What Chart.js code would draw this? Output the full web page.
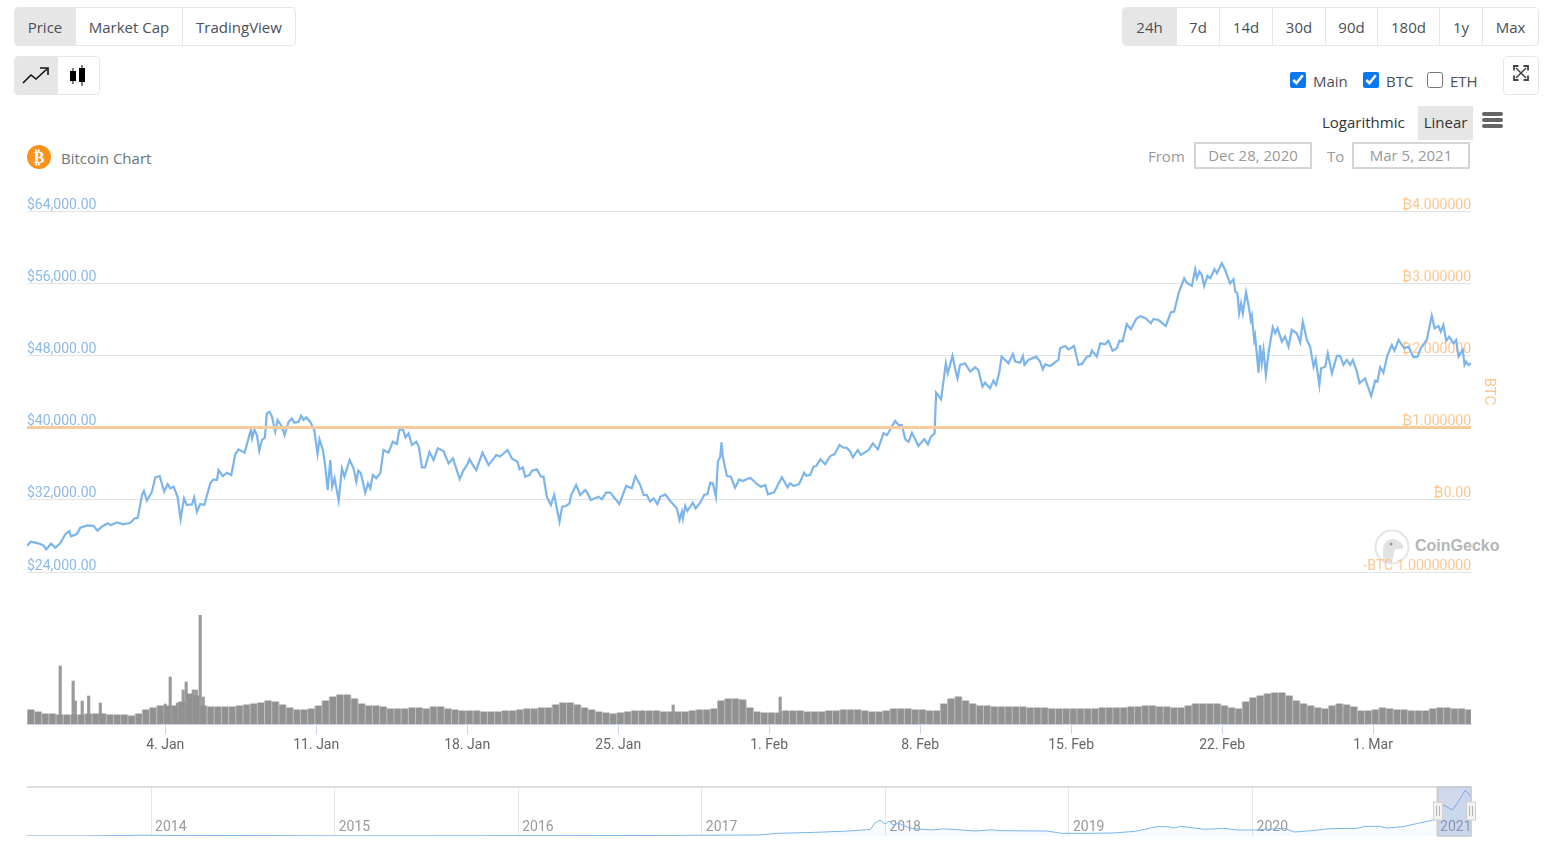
<!DOCTYPE html>
<html>
<head>
<meta charset="utf-8">
<title>Bitcoin Chart</title>
<script src="https://cdn.jsdelivr.net/npm/chart.js@4"></script>
<style>
    html, body { margin: 0; padding: 0; background: #fff; width: 1555px; height: 853px; overflow: hidden; font-family: "Open Sans", sans-serif; color: #495057; font-size: 15px; }
    .abs, canvas { position: absolute; }
    .group { position: absolute; display: flex; box-sizing: border-box; border: 1px solid #e6e6e6; border-radius: 4px; height: 39px; overflow: hidden; }
    .group div { box-sizing: border-box; border-right: 1px solid #e6e6e6; display: flex; align-items: center; justify-content: center; }
    .group div:last-child { border-right: 0; }
    .group .on { background: #e6e6e6; }
    .chk { position: absolute; margin: 0; width: 16px; height: 16px; accent-color: #0a76f0; }
    .date { position: absolute; box-sizing: border-box; top: 142px; width: 118px; height: 27px; border: 2px solid #d5d5d5; color: #999; text-align: center; line-height: 22px; }
    .grey { position: absolute; top: 146px; color: #999; }
    .lbl { position: absolute; top: 71px; }
</style>
</head>
<body>

<div class="group" style="left:14px;top:7px;width:282px">
    <div class="on" style="width:61px">Price</div>
    <div style="width:107px">Market Cap</div>
    <div style="width:112px">TradingView</div>
</div>
<div class="group" style="left:14px;top:56px;width:86px">
    <div class="on" style="width:43px">
        <svg width="30" height="20" viewBox="0 0 30 20"><polyline points="2,17 10,9 15,13 26,3" fill="none" stroke="#111" stroke-width="1.6"/><polyline points="19,2 27,2 27,9" fill="none" stroke="#111" stroke-width="1.6"/></svg>
    </div>
    <div style="width:42px">
        <svg width="22" height="22" viewBox="0 0 22 22"><rect x="3" y="6" width="6" height="10" fill="#000"/><rect x="5.5" y="3" width="1" height="16" fill="#000"/><rect x="12" y="3" width="6" height="14" fill="#000"/><rect x="14.5" y="0" width="1" height="21" fill="#000"/></svg>
    </div>
</div>

<div class="group" style="left:1122px;top:7px;width:417px">
    <div class="on" style="width:54px">24h</div>
    <div style="width:43px">7d</div>
    <div style="width:53px">14d</div>
    <div style="width:53px">30d</div>
    <div style="width:52px">90d</div>
    <div style="width:62px">180d</div>
    <div style="width:43px">1y</div>
    <div style="width:55px">Max</div>
</div>
<div class="group" style="left:1503px;top:56px;width:36px">
    <div style="width:34px;align-items:flex-start;padding-top:8px">
        <svg width="16" height="16" viewBox="0 0 16 16" fill="none" stroke="#444" stroke-width="1.500">
            <path d="M3 3l10 10M13 3L3 13"/>
            <path d="M1 5.500V1h4.500M10.500 1H15v4.500M15 10.500V15h-4.500M5.500 15H1v-4.500" stroke-width="1.800"/>
        </svg>
    </div>
</div>

<input class="chk" type="checkbox" checked style="left:1290px;top:72px">
<span class="lbl" style="left:1313px">Main</span>
<input class="chk" type="checkbox" checked style="left:1363px;top:72px">
<span class="lbl" style="left:1386px">BTC</span>
<input class="chk" type="checkbox" style="left:1427px;top:72px">
<span class="lbl" style="left:1450px">ETH</span>

<span class="abs" style="left:1322px;top:112px;color:#333">Logarithmic</span>
<div class="abs" style="left:1418px;top:106px;width:55px;height:34px;background:#e6e6e6;text-align:center;line-height:33px;color:#333">Linear</div>
<div class="abs" style="left:1482px;top:112px;width:21px;height:4px;background:#666;border-radius:2px"></div>
<div class="abs" style="left:1482px;top:118px;width:21px;height:4px;background:#666;border-radius:2px"></div>
<div class="abs" style="left:1482px;top:124px;width:21px;height:4px;background:#666;border-radius:2px"></div>

<span class="grey" style="left:1148px">From</span>
<div class="date" style="left:1194px">Dec 28, 2020</div>
<span class="grey" style="left:1327px">To</span>
<div class="date" style="left:1352px">Mar 5, 2021</div>

<svg class="abs" style="left:27px;top:145px" width="24" height="24" viewBox="0 0 24 24">
    <circle cx="12" cy="12" r="12" fill="#f7931a"/>
    <text x="12" y="18" text-anchor="middle" font-family="DejaVu Sans" font-weight="bold" font-size="16" fill="#fff">₿</text>
</svg>
<span class="abs" style="left:61px;top:148px;color:#6c757d">Bitcoin Chart</span>

<svg class="abs" style="left:1374px;top:529px" width="36" height="36" viewBox="0 0 36 36">
    <circle cx="18" cy="18" r="16.500" fill="#fff" stroke="#e4e4e4" stroke-width="2"/>
    <path d="M9 34V20c0-6 5-10 10-10 4 0 7 2 10 6 1 2 0 4-3 4h-5c-1 5-2 10-4 14z" fill="#e2e2e2"/>
    <circle cx="17" cy="15" r="1.500" fill="#999"/>
</svg>
<span class="abs" style="left:1415px;top:537px;color:#b5b5b5;font:bold 16px 'Liberation Sans'">CoinGecko</span>

<canvas id="mainChart" width="1555" height="400" style="left:0;top:190px"></canvas>
<canvas id="volumeChart" width="1555" height="170" style="left:0;top:600px"></canvas>
<canvas id="navChart" width="1555" height="73" style="left:0;top:780px"></canvas>

<script>
// days since 1 Jan 2021
const priceDays = [
    -3.41,-3.23,-3.03,-2.80,-2.64,-2.52,-2.29,-2.10,-1.87,-1.64,-1.45,-1.37,-1.10,-0.94,-0.60,-0.32,-0.14,0.06,0.33,0.48,
    0.76,1.04,1.38,1.58,1.73,1.92,2.01,2.15,2.38,2.54,2.74,2.95,3.11,3.23,3.39,3.57,3.71,3.87,4.00,4.24,
    4.34,4.47,4.62,4.81,5.09,5.24,5.40,5.47,5.67,5.86,6.06,6.25,6.40,6.68,6.86,6.97,7.03,7.13,7.25,7.36,
    7.48,7.62,7.71,7.84,7.95,8.10,8.21,8.41,8.53,8.72,8.87,8.98,9.18,9.30,9.41,9.54,9.72,9.91,10.06,10.15,
    10.31,10.42,10.53,10.65,10.74,10.85,11.04,11.19,11.31,11.55,11.73,11.86,11.95,12.07,12.27,12.40,12.50,12.63,12.78,12.97,
    13.12,13.35,13.55,13.74,13.85,14.02,14.14,14.28,14.44,14.64,14.76,14.90,15.05,15.25,15.44,15.64,15.90,16.14,16.34,16.65,
    16.83,16.99,17.11,17.26,17.42,17.71,17.99,18.35,18.53,18.87,19.07,19.33,19.43,19.58,19.69,19.89,20.00,20.23,20.42,20.54,
    20.69,20.88,21.03,21.28,21.40,21.57,21.74,21.82,22.05,22.24,22.47,22.58,22.73,23.09,23.24,23.44,23.63,24.05,24.37,24.63,
    24.80,25.02,25.18,25.33,25.48,25.64,25.82,25.95,26.18,26.44,26.72,26.84,26.95,27.00,27.11,27.21,27.46,27.59,27.80,27.99,
    28.14,28.27,28.39,28.53,28.62,28.73,28.79,28.85,29.04,29.22,29.42,29.61,29.77,30.12,30.43,30.61,30.82,30.94,31.23,31.36,
    31.59,31.85,31.97,32.13,32.39,32.62,32.72,32.90,33.06,33.18,33.37,33.60,33.83,34.03,34.26,34.45,34.60,34.76,34.88,35.11,
    35.25,35.61,35.81,36.04,36.30,36.46,36.84,37.00,37.15,37.31,37.46,37.62,37.92,38.19,38.36,38.50,38.67,38.74,38.88,38.97,
    39.03,39.19,39.28,39.50,39.62,39.73,39.85,40.08,40.32,40.55,40.70,40.89,41.01,41.24,41.40,41.52,41.66,41.78,41.97,42.09,
    42.30,42.41,42.64,42.76,42.84,43.02,43.38,43.56,43.69,43.80,44.03,44.41,44.49,44.72,44.88,45.14,45.34,45.50,45.73,45.88,
    45.96,46.19,46.35,46.58,46.73,46.92,47.12,47.24,47.38,47.58,47.77,48.02,48.20,48.43,48.70,48.82,49.05,49.39,49.62,49.78,
    49.98,50.24,50.36,50.60,50.75,50.83,50.95,51.06,51.17,51.32,51.45,51.65,51.76,51.99,52.14,52.37,52.53,52.61,52.71,52.79,
    52.88,52.96,53.11,53.22,53.33,53.38,53.49,53.53,53.69,53.76,53.84,53.92,54.03,54.17,54.35,54.46,54.57,54.77,54.92,55.08,
    55.23,55.46,55.62,55.74,55.93,56.08,56.24,56.34,56.51,56.59,56.78,56.90,57.09,57.32,57.47,57.63,57.78,57.94,58.06,58.25,
    58.37,58.63,58.91,59.10,59.20,59.33,59.48,59.67,59.87,59.99,60.18,60.44,60.64,60.87,61.06,61.21,61.49,61.72,61.85,62.03,
    62.14,62.26,62.39,62.53,62.73,62.85,62.96,63.16,63.24,63.31,63.42,63.54
];
const prices = [
    26920,27360,27250,27100,26920,26510,27140,26690,27170,28170,28540,27950,28210,28910,29170,29100,28580,29020,29390,29170,
    29500,29280,29460,29940,30020,32530,32970,31900,32900,34490,34630,32900,33750,33270,33450,32340,29870,32160,31420,31500,
    32270,30680,31530,31420,33820,34260,34190,35300,34630,35000,34750,37070,37590,37220,38810,39730,38810,39800,39180,37440,
    38620,38880,41580,41760,41210,39550,40840,40100,39180,40650,41020,40540,40650,41320,40840,41130,40650,39730,37070,38700,
    37510,35670,33080,36410,33450,34380,31900,35480,34560,36410,35480,34010,35230,34930,32790,33820,33270,34750,34380,34930,
    37510,37220,38440,38180,39730,39800,38920,39360,38070,38440,37880,35590,35590,37290,36410,37700,37400,36040,36590,34300,
    35300,35850,36520,35850,35300,37220,35850,36960,36800,37520,36590,36220,35370,35590,34560,34750,35230,35370,34560,34560,
    32340,31420,32530,29570,31240,31310,31610,32530,33640,32530,33080,32710,31980,32340,32050,32790,32790,31530,33530,33270,
    34630,33640,32530,32530,31790,32160,31530,32340,32600,31790,31050,29760,30680,29940,31310,30760,31680,31050,31680,32530,
    32640,33900,33820,32340,36220,36780,38360,36780,34630,34560,33340,34260,34080,34450,33750,33450,33640,32600,32820,33450,
    34490,33380,33820,33530,33750,35000,34670,34750,35670,35740,36480,35930,36850,37030,38070,37770,37770,37330,36700,37510,
    36960,37510,38250,37590,39360,39180,40730,40280,40280,38700,38440,39440,37960,38730,38140,38990,39360,43870,43430,43130,
    44170,47120,46010,47970,46570,45460,46940,47120,46200,46680,46380,44540,44980,44350,45200,44720,46010,47860,47420,47120,
    48160,47310,47200,47940,46940,47490,47860,47310,46460,47010,46830,47490,48790,49040,48670,49040,46940,47050,47860,47940,
    48530,47860,49340,49230,49630,48530,48790,49630,49520,51480,50890,52040,52330,52150,51560,52040,51920,51260,52770,52850,
    54880,56540,56060,55690,57540,56540,57280,56910,55690,56800,56540,57540,57100,58200,57460,55990,56430,55060,54880,52660,
    53770,52660,54990,53590,51920,52400,49710,50150,46090,49150,47120,48600,45830,48600,51110,50450,51000,49520,50080,48970,
    50820,50450,49450,51740,49710,48970,46750,47570,44720,46570,46750,48230,46020,47940,47940,46940,47490,46940,47490,46200,
    44910,45460,43500,45200,45090,46680,46090,48050,49150,48530,49710,48790,48970,47790,47860,48790,49710,52400,51000,51260,
    50630,51370,49630,50080,49340,49710,47860,48600,46940,47310,46940,47120
];

const btcDays = [-3.41, 63.54];
const btcValues = [1, 1];

const usdTicks = [24000, 32000, 40000, 48000, 56000, 64000];
const usdTickLabels = ['$24,000.00', '$32,000.00', '$40,000.00', '$48,000.00', '$56,000.00', '$64,000.00'];
const btcTicks = [-1, 0, 1, 2, 3, 4];
const btcTickLabels = ['-BTC 1.00000000', '₿0.00', '₿1.000000', '₿2.000000', '₿3.000000', '₿4.000000'];

// volume in $bn, one bar every 8 hours from the first one
const volumeStart = -3.23;
const volumeStep = 1 / 3;
const volumes = [
    42,36,30,30,27,27,27,27,30,30,30,27,27,27,24,30,42,48,54,54,
    54,66,90,84,54,51,51,51,51,54,57,60,63,69,66,57,48,42,42,45,
    54,69,81,87,87,75,60,54,54,51,45,45,45,48,48,45,51,51,45,42,
    39,39,39,36,36,36,39,39,42,45,45,48,48,57,63,63,57,48,42,36,
    33,30,33,36,39,39,39,39,36,36,36,36,39,42,42,45,69,75,75,72,
    48,36,33,33,33,39,39,39,36,36,36,39,39,42,42,42,39,36,36,39,
    45,45,45,42,42,39,39,60,75,81,69,60,54,54,51,51,51,51,51,48,
    48,48,45,45,45,45,45,45,45,48,48,48,48,51,51,54,54,51,51,48,
    48,54,60,60,60,60,54,48,45,66,78,84,90,93,93,84,69,60,54,48,
    45,54,60,57,51,39,39,42,48,45,42,42,39,39,39,45,48,48,45,45,
    42
];
const spikeDays = [-1.87, -1.27, -1.17, -0.85, -0.55, -0.01, 3.00, 3.23, 3.56, 3.83, 3.97, 4.30, 4.44, 4.62, 4.76, 26.55, 31.51];
const spikeVolumes = [174, 129, 69, 69, 84, 63, 60, 141, 63, 102, 126, 102, 102, 327, 81, 57, 81];

const dateTicks = [3, 10, 17, 24, 31, 38, 45, 52, 59];
const dateLabels = ['4. Jan', '11. Jan', '18. Jan', '25. Jan', '1. Feb', '8. Feb', '15. Feb', '22. Feb', '1. Mar'];

// whole history for the small chart below
const navYears = [
    2013.32,2013.6,2013.85,2013.93,2014.05,2014.2,2014.45,2014.8,2015.05,2015.5,2015.9,2016.3,2016.55,2016.9,2017.0,2017.31,2017.41,2017.62,2017.8,2017.92,
    2017.94,2017.97,2018.0,2018.02,2018.04,2018.07,2018.14,2018.25,2018.32,2018.49,2018.58,2018.62,2018.88,2018.96,2019.09,2019.24,2019.36,2019.48,2019.54,2019.57,
    2019.61,2019.74,2019.84,2019.92,2020.01,2020.17,2020.23,2020.32,2020.42,2020.57,2020.61,2020.69,2020.73,2020.82,2020.9,2020.98,2021.04,2021.09,2021.12,2021.16,2021.19
];
const navPrices = [
    135,120,500,1000,800,500,600,350,230,270,380,430,650,750,1000,1260,3360,4620,6300,8400,
    16000,20160,15000,18900,13860,16000,9660,7560,9000,6300,7800,6720,6300,3360,3360,3780,5880,11760,11760,10080,
    12180,8400,9660,7560,7560,9660,5040,6720,9240,9660,12180,12180,10080,11760,15960,19740,39060,32760,43250,57960,49560
];
const navTicks = [2014, 2015, 2016, 2017, 2018, 2019, 2020, 2021];
const navFrom = 2021.01;
const navTo = 2021.19;

const BLUE = '#7cb5ec';
const ORANGE = '#f7cb9b';
const TICK_FONT = 'Roboto, sans-serif';

Chart.defaults.font.family = TICK_FONT;
Chart.defaults.animation = false;
Chart.defaults.responsive = false;
Chart.defaults.plugins.legend.display = false;

function toPoints(xs, ys) {
    return xs.map((x, i) => ({ x: x, y: ys[i] }));
}

new Chart(document.getElementById('mainChart'), {
    type: 'line',
    data: {
        datasets: [
            {
                label: 'Price',
                data: toPoints(priceDays, prices),
                borderColor: BLUE,
                borderWidth: 2.2,
                pointRadius: 0,
                tension: 0,
                yAxisID: 'y',
                order: 2
            },
            {
                label: 'BTC',
                data: toPoints(btcDays, btcValues),
                borderColor: ORANGE,
                borderWidth: 3,
                pointRadius: 0,
                yAxisID: 'y2',
                order: 1
            }
        ]
    },
    options: {
        layout: { padding: { left: 27, top: 21, bottom: 18 } },
        scales: {
            x: { type: 'linear', display: false, min: -3.41, max: 63.54 },
            y: {
                position: 'left',
                min: 24000,
                max: 64000,
                afterBuildTicks: s => { s.ticks = usdTicks.map(v => ({ value: v })); },
                afterFit: s => { s.width = 0; },
                border: { display: false },
                grid: { color: '#e3e3e3', drawTicks: false },
                ticks: {
                    mirror: true,
                    padding: 0,
                    labelOffset: -6,
                    color: '#8db9e6',
                    font: { size: 14 },
                    callback: (v, i) => usdTickLabels[i]
                }
            },
            y2: {
                position: 'right',
                min: -1,
                max: 4,
                afterBuildTicks: s => { s.ticks = btcTicks.map(v => ({ value: v })); },
                afterFit: s => { s.width = 84; },
                border: { display: false },
                grid: { display: false },
                title: { display: true, text: 'BTC', color: '#f9c891', font: { size: 15 }, padding: { top: 57, bottom: 0 } },
                ticks: {
                    mirror: true,
                    padding: 0,
                    labelOffset: -6,
                    color: '#f9c891',
                    font: { size: 14 },
                    callback: (v, i) => btcTickLabels[i]
                }
            }
        }
    }
});

new Chart(document.getElementById('volumeChart'), {
    type: 'bar',
    data: {
        datasets: [
            {
                label: 'Volume',
                data: volumes.map((v, i) => ({ x: volumeStart + i * volumeStep, y: v })),
                backgroundColor: '#919191',
                barThickness: 5.5,
                grouped: false,
                order: 1
            },
            {
                label: 'Volume behind',
                data: volumes.map((v, i) => ({ x: volumeStart + i * volumeStep, y: v })),
                backgroundColor: '#bdbdbd',
                barThickness: 7.5,
                grouped: false,
                order: 3
            },
            {
                label: 'Volume spikes',
                data: toPoints(spikeDays, spikeVolumes),
                backgroundColor: '#9a9a9a',
                barThickness: 2.5,
                grouped: false,
                order: 2
            }
        ]
    },
    options: {
        layout: { padding: { left: 27, right: 84, top: 15 } },
        scales: {
            x: {
                type: 'linear',
                offset: false,
                min: -3.41,
                max: 63.54,
                afterBuildTicks: s => { s.ticks = dateTicks.map(v => ({ value: v })); },
                afterFit: s => { s.height = 46; },
                border: { color: '#ccd6eb' },
                grid: { offset: false, drawOnChartArea: false, color: '#ccd6eb', tickLength: 10 },
                ticks: {
                    autoSkip: false,
                    maxRotation: 0,
                    padding: 3,
                    color: '#666',
                    font: { size: 14 },
                    callback: (v, i) => dateLabels[i]
                }
            },
            y: { display: false, min: 0, max: 327 }
        }
    }
});

const navOverlay = {
    id: 'navOverlay',
    afterDraw(chart) {
        const { ctx, chartArea, scales } = chart;
        const left = scales.x.getPixelForValue(navFrom);
        const right = scales.x.getPixelForValue(navTo);
        ctx.save();
        ctx.fillStyle = '#dcdcdc';
        ctx.fillRect(chartArea.left, chartArea.top - 1, chartArea.width, 2);
        ctx.fillStyle = 'rgba(102,133,194,0.3)';
        ctx.fillRect(left, chartArea.top, right - left, chartArea.height);
        ctx.strokeStyle = '#c4c8d0';
        ctx.lineWidth = 1.5;
        ctx.strokeRect(left, chartArea.top, right - left, chartArea.height);
        [left, right].forEach(x => {
            ctx.fillStyle = '#f2f2f2';
            ctx.strokeStyle = '#d0d0d0';
            ctx.lineWidth = 1;
            ctx.fillRect(x - 4.5, 22, 9, 18);
            ctx.strokeRect(x - 4.5, 22, 9, 18);
            ctx.strokeStyle = '#b5b5b5';
            ctx.beginPath();
            ctx.moveTo(x - 1.5, 26);
            ctx.lineTo(x - 1.5, 36);
            ctx.moveTo(x + 1.5, 26);
            ctx.lineTo(x + 1.5, 36);
            ctx.stroke();
        });
        ctx.restore();
    }
};

new Chart(document.getElementById('navChart'), {
    type: 'line',
    data: {
        datasets: [{
            label: 'History',
            data: toPoints(navYears, navPrices),
            borderColor: BLUE,
            borderWidth: 1,
            backgroundColor: 'rgba(124,181,236,0.06)',
            fill: 'origin',
            pointRadius: 0,
            tension: 0
        }]
    },
    plugins: [navOverlay],
    options: {
        layout: { padding: { left: 27, right: 84, top: 7, bottom: 17 } },
        scales: {
            x: {
                type: 'linear',
                min: 2013.324,
                max: 2021.19,
                afterBuildTicks: s => { s.ticks = navTicks.map(v => ({ value: v })); },
                afterFit: s => { s.height = 0; },
                border: { display: false },
                grid: { color: '#e6e6e6', drawTicks: false },
                ticks: {
                    autoSkip: false,
                    maxRotation: 0,
                    mirror: true,
                    align: 'start',
                    padding: 0,
                    labelOffset: 4,
                    color: '#999',
                    font: { size: 14 },
                    callback: v => String(v)
                }
            },
            y: { display: false, min: 0, max: 61740 }
        }
    }
});
</script>
</body>
</html>
